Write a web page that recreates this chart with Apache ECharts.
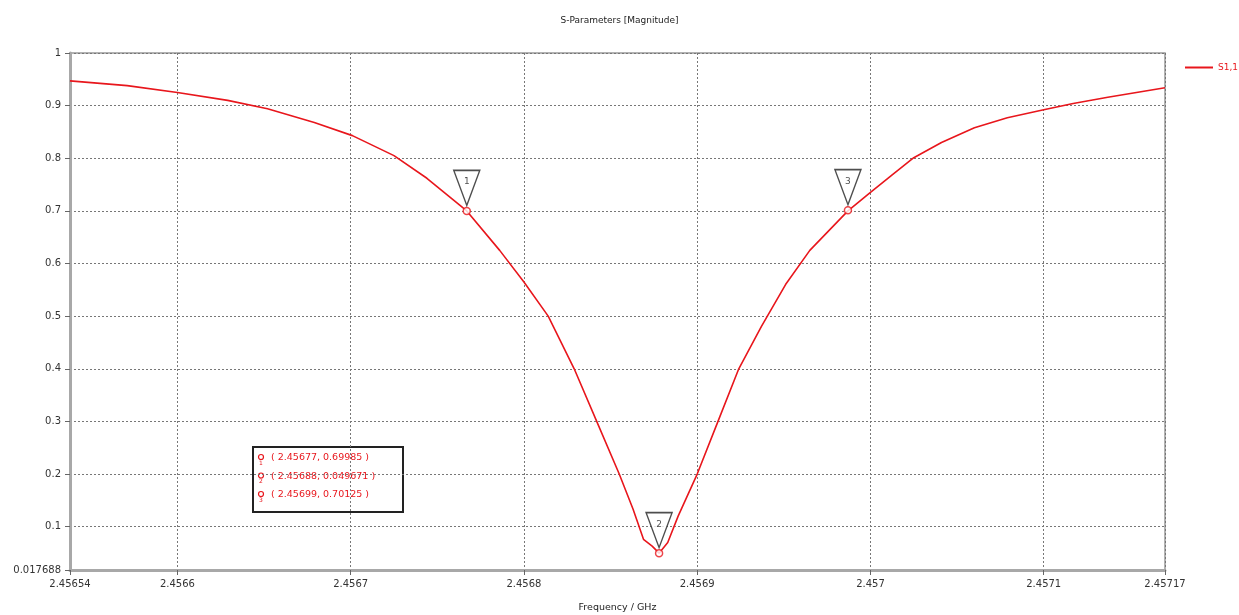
<!DOCTYPE html>
<html>
<head>
<meta charset="utf-8">
<script src="https://cdn.jsdelivr.net/npm/echarts@6/dist/echarts.min.js"></script>
<style>html,body{margin:0;padding:0;background:#fff}#c{width:1239px;height:615px}</style>
</head>
<body>
<div id="c"></div>
<script>
// ---- data ----
const freqGHz = [2.456538, 2.456571, 2.4566, 2.456629, 2.456652, 2.456679, 2.456701, 2.456725, 2.456744, 2.456767,
  2.456786, 2.4568, 2.456814, 2.456829, 2.456842, 2.456855, 2.456863, 2.456869, 2.456874, 2.456878,
  2.456883, 2.456889, 2.4569, 2.456912, 2.456924, 2.456937, 2.456951, 2.456965, 2.456987, 2.457,
  2.457012, 2.457025, 2.457041, 2.45706, 2.457079, 2.4571, 2.457117, 2.457137, 2.45717];
const s11Mag = [0.947, 0.938, 0.925, 0.910, 0.894, 0.868, 0.843, 0.805, 0.762, 0.700,
  0.625, 0.565, 0.500, 0.400, 0.300, 0.200, 0.133, 0.076, 0.063, 0.0497,
  0.070, 0.120, 0.200, 0.300, 0.400, 0.480, 0.560, 0.625, 0.700, 0.735,
  0.767, 0.801, 0.830, 0.858, 0.877, 0.892, 0.904, 0.916, 0.934];
const markerIds = ['1', '2', '3'];
const markerFreq = [2.456767, 2.456878, 2.456987];
const markerMag = [0.69985, 0.049671, 0.70125];
const xTicks = [2.456538, 2.4566, 2.4567, 2.4568, 2.4569, 2.457, 2.4571, 2.45717];
const yTicks = [0.017688, 0.1, 0.2, 0.3, 0.4, 0.5, 0.6, 0.7, 0.8, 0.9, 1];
const seriesName = 'S1,1';
const titleText = 'S-Parameters [Magnitude]';
const xName = 'Frequency / GHz';

const RED = '#e8161c';
const FONT = 'DejaVu Sans';
const chart = echarts.init(document.getElementById('c'));
const curve = freqGHz.map((f, i) => [f, s11Mag[i]]);
const marks = markerFreq.map((f, i) => [f, markerMag[i], markerIds[i]]);
const fmt5 = v => String(parseFloat(v.toFixed(5)));

const boxX = 253, boxY = 447;
const boxChildren = [{
  type: 'rect', shape: {x: 0, y: 0, width: 150, height: 65},
  style: {fill: '#fff', stroke: '#222', lineWidth: 2}
}];
markerIds.forEach((id, i) => {
  const cy = 12 + i * 18.5;
  boxChildren.push({type: 'circle', shape: {cx: 8, cy: cy - 2, r: 2.5}, style: {fill: 'none', stroke: RED, lineWidth: 1.2}});
  boxChildren.push({type: 'text', x: 6, y: cy + 1, style: {text: id, font: '6px ' + FONT, fill: RED}});
  boxChildren.push({type: 'text', x: 18, y: cy - 6, style: {
    text: '( ' + fmt5(markerFreq[i]) + ', ' + markerMag[i] + ' )', font: '9.5px ' + FONT, fill: RED}});
});

chart.setOption({
  animation: false,
  title: {text: titleText, left: 'center', top: 11, textStyle: {fontFamily: FONT, fontSize: 9, fontWeight: 'normal', color: '#222'}},
  legend: {data: [{name: seriesName, icon: 'rect'}], left: 1180, top: 58, itemWidth: 28, itemHeight: 2, itemGap: 4,
    textStyle: {fontFamily: FONT, fontSize: 9, color: RED}},
  grid: {left: 70, right: 74, top: 53, bottom: 45, outerBoundsMode: 'none', containLabel: false,
    show: true, borderColor: '#999', borderWidth: 1.5, backgroundColor: '#fff'},
  xAxis: {
    type: 'value', min: xTicks[0], max: xTicks[xTicks.length - 1], name: xName, nameLocation: 'middle', nameGap: 33,
    nameTextStyle: {fontFamily: FONT, fontSize: 9.5, color: '#222'},
    axisLine: {show: true, onZero: false, lineStyle: {color: '#a8a8a8', width: 3}},
    axisTick: {show: true, customValues: xTicks, length: 5, lineStyle: {color: '#666'}},
    axisLabel: {customValues: xTicks, fontFamily: FONT, fontSize: 10, color: '#333', margin: 9, formatter: fmt5},
    splitLine: {show: true, lineStyle: {color: '#777', type: [2, 2], width: 1}}
  },
  yAxis: {
    type: 'value', min: yTicks[0], max: yTicks[yTicks.length - 1],
    axisLine: {show: true, lineStyle: {color: '#a8a8a8', width: 3}},
    axisTick: {show: true, customValues: yTicks, length: 5, lineStyle: {color: '#666'}},
    axisLabel: {customValues: yTicks, fontFamily: FONT, fontSize: 10, color: '#333', margin: 9,
      formatter: v => String(parseFloat(v.toFixed(6)))},
    splitLine: {show: true, lineStyle: {color: '#777', type: [2, 2], width: 1}}
  },
  series: [
    {name: seriesName, type: 'line', data: curve, showSymbol: false, symbol: 'none',
      lineStyle: {color: RED, width: 1.6}, itemStyle: {color: RED}, z: 3},
    {type: 'scatter', data: marks, symbol: 'circle', symbolSize: 7, silent: true,
      itemStyle: {color: '#fff', borderColor: RED, borderWidth: 1.5}, z: 5},
    {type: 'scatter', data: marks, symbol: 'triangle', symbolRotate: 180, symbolSize: [26, 35], symbolOffset: [0, -23],
      silent: true, itemStyle: {color: '#fff', borderColor: '#222', borderWidth: 1.5}, z: 6,
      label: {show: true, position: 'inside', offset: [0, -6], formatter: p => p.value[2], fontFamily: FONT, fontSize: 9, color: '#222'}}
  ],
  graphic: [{type: 'group', x: boxX, y: boxY, children: boxChildren, z: 10}]
});
</script>
</body>
</html>
